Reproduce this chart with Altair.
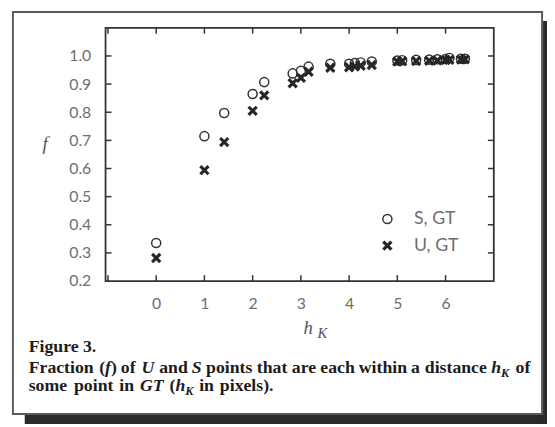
import altair as alt
import pandas as pd

# ---- data ----
h_vals = [0, 1, 1.41, 2, 2.24, 2.83, 3, 3.16, 3.61, 4, 4.12, 4.24, 4.47,
          5, 5.10, 5.39, 5.66, 5.83, 6, 6.08, 6.32, 6.40]
s_vals = [0.335, 0.715, 0.797, 0.865, 0.907, 0.938, 0.947, 0.962, 0.972, 0.972, 0.975, 0.977, 0.980,
          0.984, 0.985, 0.986, 0.987, 0.988, 0.989, 0.993, 0.990, 0.990]
u_vals = [0.282, 0.594, 0.694, 0.805, 0.860, 0.903, 0.922, 0.944, 0.958, 0.960, 0.962, 0.965, 0.968,
          0.980, 0.981, 0.982, 0.983, 0.984, 0.985, 0.986, 0.987, 0.988]
x_tick_vals = [-1, 0, 1, 2, 3, 4, 5, 6]
x_label_vals = [0, 1, 2, 3, 4, 5, 6]
y_tick_vals = [0.3, 0.4, 0.5, 0.6, 0.7, 0.8, 0.9, 1.0]
y_label_vals = [0.2, 0.3, 0.4, 0.5, 0.6, 0.7, 0.8, 0.9, 1.0]
legend_labels = ["S, GT", "U, GT"]

W, H = 394, 257
X_PATH = "M-1,-1L1,1M-1,1L1,-1"
xs = alt.Scale(domain=[-1.05, 7.0], nice=False, zero=False)
ys = alt.Scale(domain=[0.2, 1.1], nice=False, zero=False)

LABEL_FONT = "Lato"
LABEL_COLOR = "#6e6e6e"
x_axis = alt.Axis(values=x_label_vals, format="d", domain=False, ticks=False, tickSize=0,
                  grid=False, labelPadding=15, labelFont=LABEL_FONT, labelFontSize=16,
                  labelColor=LABEL_COLOR, title=None)
y_axis = alt.Axis(values=y_label_vals, format=".1f", domain=False, ticks=False, tickSize=0,
                  grid=False, labelPadding=15, labelFont=LABEL_FONT, labelFontSize=16,
                  labelColor=LABEL_COLOR, title=None)

df = pd.DataFrame({"h": h_vals, "S": s_vals, "U": u_vals})
xt = pd.DataFrame({"v": x_tick_vals})
yt = pd.DataFrame({"v": y_tick_vals})
one = pd.DataFrame({"k": [0]})

X = lambda f: alt.X(f, scale=xs, axis=x_axis)
Y = lambda f: alt.Y(f, scale=ys, axis=y_axis)

layers = []

# shadow and outer box
layers.append(alt.Chart(one).mark_rect(color="#2a2a2a").encode(
    x=alt.value(-82), x2=alt.value(448), y=alt.value(393), y2=alt.value(402)))
layers.append(alt.Chart(one).mark_rect(color="#2a2a2a").encode(
    x=alt.value(444), x2=alt.value(448), y=alt.value(-7), y2=alt.value(402)))
layers.append(alt.Chart(one).mark_rect(fill="transparent", stroke="#5a5a5a", strokeWidth=2).encode(
    x=alt.value(-94), x2=alt.value(443), y=alt.value(-16), y2=alt.value(392)))

# inward ticks
tick_style = dict(color="#333333", strokeWidth=1.5)
layers.append(alt.Chart(yt).mark_rule(**tick_style).encode(
    y=Y("v:Q"), x=alt.value(0), x2=alt.value(6)))
layers.append(alt.Chart(yt).mark_rule(**tick_style).encode(
    y=Y("v:Q"), x=alt.value(W - 6), x2=alt.value(W)))
layers.append(alt.Chart(xt).mark_rule(**tick_style).encode(
    x=X("v:Q"), y=alt.value(H - 6), y2=alt.value(H)))
layers.append(alt.Chart(xt).mark_rule(**tick_style).encode(
    x=X("v:Q"), y=alt.value(0), y2=alt.value(6)))

# data
CIRC = dict(shape="circle", filled=False, size=85, strokeWidth=1.5, color="#333333", opacity=1)
CROSS = dict(shape=X_PATH, filled=False, size=68, strokeWidth=3.2, color="#262626", opacity=1)
layers.append(alt.Chart(df).mark_point(**CIRC).encode(x=X("h:Q"), y=Y("S:Q")))
layers.append(alt.Chart(df).mark_point(**CROSS).encode(x=X("h:Q"), y=Y("U:Q")))

# legend
layers.append(alt.Chart(one).mark_point(**CIRC).encode(x=alt.value(286), y=alt.value(194)))
layers.append(alt.Chart(one).mark_point(**CROSS).encode(x=alt.value(286), y=alt.value(221)))
for lab, yy in zip(legend_labels, [194, 221]):
    layers.append(alt.Chart(one).mark_text(text=lab, font=LABEL_FONT, fontSize=18, color=LABEL_COLOR,
                                           align="left", baseline="middle").encode(
        x=alt.value(313), y=alt.value(yy)))


def txt(s, x, y, size=18, italic=False, bold=True, font="Liberation Serif", color="#1c1c1c"):
    kw = dict(text=s, font=font, fontSize=size, color=color, align="left", baseline="alphabetic")
    if italic:
        kw["fontStyle"] = "italic"
    if bold:
        kw["fontWeight"] = "bold"
    return alt.Chart(one).mark_text(**kw).encode(x=alt.value(x), y=alt.value(y))


# axis titles
layers.append(txt("f", -64, 124, size=19, italic=True, bold=False, color="#555555"))
layers.append(txt("h", 201, 311, size=19, italic=True, bold=False, color="#555555"))
layers.append(txt("K", 215, 315, size=15, italic=True, bold=False, color="#555555"))

# caption (x positions are page positions, shifted by the plot origin)
OX = 107
b1, b2, b3 = 329, 350, 369
layers.append(txt("Figure 3.", 29 - OX, b1))
line2 = [("Fraction", 29, False), ("(", 100.5, False), ("f", 106.5, True), (")", 112.5, False),
         ("of", 122.5, False), ("U", 143.5, True), ("and", 161.5, False), ("S", 194.5, True),
         ("points", 209, False), ("that", 260.5, False), ("are", 296, False),
         ("each", 325, False), ("within", 364, False), ("a", 417, False),
         ("distance", 431, False), ("h", 498.3, True), ("of", 523.1, False)]
for s, x, it in line2:
    layers.append(txt(s, x - OX, b2, italic=it))
layers.append(txt("K", 508.3 - OX, b2 + 4, size=12.5, italic=True))
line3 = [("some", 29, False), ("point", 75, False), ("in", 121, False), ("GT", 142, True),
         ("(", 172, False), ("h", 178, True), ("in", 202, False), ("pixels).", 223, False)]
for s, x, it in line3:
    layers.append(txt(s, x - OX, b3, italic=it))
layers.append(txt("K", 188 - OX, b3 + 4, size=12.5, italic=True))

chart = alt.layer(*layers).properties(
    width=W, height=H,
    autosize=alt.AutoSizeParams(type="none"),
    padding={"left": 99, "top": 17, "right": 54, "bottom": 145},
    background="white",
).configure_view(stroke="#333333", strokeWidth=1.8)

chart.save("out.html", embed_options={"renderer": "svg", "actions": False})
